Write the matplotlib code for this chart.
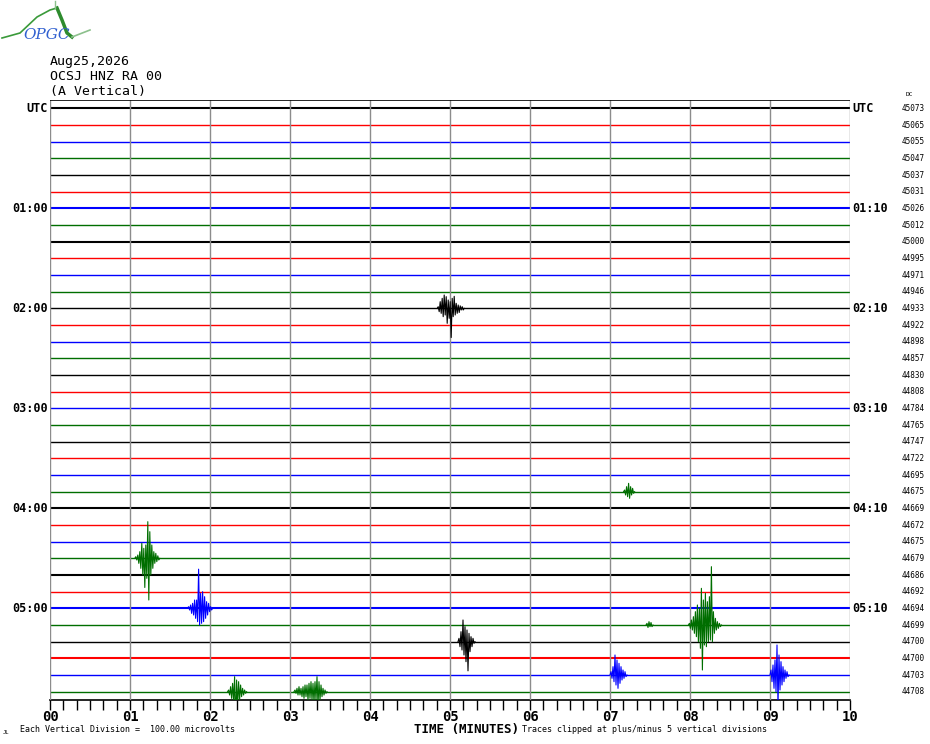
import matplotlib
matplotlib.use("Agg")
import matplotlib.pyplot as plt

# helicorder: 36 lines of 10 minutes, 00:00 -> 05:50 UTC
n_lines = 36
colors = ['black', 'red', 'blue', '#006e00']
left_labels = {0: 'UTC', 6: '01:00', 12: '02:00', 18: '03:00', 24: '04:00', 30: '05:00'}
right_labels = {0: 'UTC', 6: '01:10', 12: '02:10', 18: '03:10', 24: '04:10', 30: '05:10'}
dc_values = [45073, 45065, 45055, 45047, 45037, 45031, 45026, 45012, 45000, 44995,
             44971, 44946, 44933, 44922, 44898, 44857, 44830, 44808, 44784, 44765,
             44747, 44722, 44695, 44675, 44669, 44672, 44675, 44679, 44686, 44692,
             44694, 44699, 44700, 44700, 44703, 44708]
minute_labels = ['00', '01', '02', '03', '04', '05', '06', '07', '08', '09', '10']
thick_lines = [0, 6, 8, 24, 28, 30, 33]

# events: line, start minute, amplitudes in divisions (1 sample ~ 0.0125 min)
events = [
    (12, 4.84, [0.1, -0.2, 0.4, -0.3, 0.6, -0.5, 0.8, -0.4, 0.7, -0.9, 0.5, -0.6, 0.4, -1.75,
                0.6, -0.5, 0.72, -0.4, 0.3, -0.3, 0.2, -0.25, 0.15, -0.1, 0.1, -0.1]),
    (27, 1.06, [0.1, -0.1, 0.2, -0.3, 0.4, -0.6, 0.9, -1.0, 0.6, -1.75, 0.8, -1.2, 2.2, -2.5,
                1.6, -1.0, 0.8, -0.6, 0.4, -0.3, 0.3, -0.2, 0.15, -0.1]),
    (30, 1.72, [0.1, -0.1, 0.2, -0.3, 0.3, -0.4, 0.5, -0.6, 0.5, -0.8, 2.35, -1.0, 0.9, -0.9,
                1.0, -0.8, 0.7, -0.6, 0.4, -0.4, 0.3, -0.2, 0.1, -0.1]),
    (23, 7.17, [0.1, -0.2, 0.3, -0.3, 0.5, -0.4, 0.3, -0.2, 0.2, -0.1]),
    (31, 7.45, [0.1, -0.15, 0.2, -0.1, 0.15, -0.1]),
    (31, 7.98, [0.1, -0.2, 0.3, -0.3, 0.5, -0.5, 0.8, -0.7, 1.2, -1.0, 1.0, -1.4, 2.2, -2.7,
                1.5, -1.2, 1.9, -1.3, 1.4, -1.0, 1.7, -0.9, 3.5, -1.0, 0.8, -0.5, 0.4, -0.3,
                0.2, -0.2, 0.1, -0.1]),
    (32, 5.1, [0.2, -0.3, 0.6, -0.5, 1.3, -0.8, 0.9, -1.2, 0.7, -1.75, 0.5, -0.6, 0.3, -0.3,
               0.2, -0.1]),
    (34, 7.0, [0.2, -0.2, 0.5, -0.4, 1.2, -0.6, 0.9, -0.8, 0.7, -0.5, 0.5, -0.3, 0.3, -0.2,
               0.2, -0.1]),
    (34, 9.0, [0.3, -0.4, 0.6, -0.8, 0.9, -1.0, 1.8, -1.9, 1.2, -0.9, 0.8, -0.6, 0.5, -0.4,
               0.3, -0.2, 0.2, -0.1]),
    (35, 2.22, [0.1, -0.2, 0.3, -0.4, 0.5, -0.6, 0.9, -1.9, 0.7, -0.9, 0.6, -0.5, 0.4, -0.3,
                0.2, -0.2, 0.1, -0.1]),
    (35, 3.05, [0.1, -0.1, 0.2, -0.2, 0.3, -0.2, 0.2, -0.3, 0.3, -0.4, 0.4, -0.3, 0.4, -0.5,
                0.5, -0.4, 0.6, -0.5, 0.5, -0.6, 0.6, -0.5, 0.9, -0.8, 0.6, -0.5, 0.4, -0.3,
                0.2, -0.2, 0.1, -0.1]),
]

logo_curve_x = [2, 20, 37, 50, 57, 62, 67, 72, 90]
logo_curve_y = [38, 33, 17, 10, 8, 20, 33, 37, 30]

mono = 'DejaVu Sans Mono'
W, H = 930, 744
fig = plt.figure(figsize=(W / 100, H / 100), dpi=100)

ax = fig.add_axes([50 / W, 1 - 700 / H, 800 / W, 600 / H])
ax.set_xlim(0, 10)
ax.set_ylim(n_lines - 0.5, -0.5)

for m in range(11):
    ax.axvline(m, color='#8c8c8c', lw=1.0, zorder=3)
ax.axhline(-0.5, color='black', lw=1.2, zorder=3)

for i in range(n_lines):
    lw = 1.5 if i in thick_lines else 1.0
    ax.plot([0, 10], [i, i], color=colors[i % 4], lw=lw, zorder=2, solid_capstyle='butt')

step = 0.0125
for line, start, amps in events:
    xs = [start + k * step for k in range(len(amps) + 2)]
    ys = [line] + [line - a for a in amps] + [line]
    ax.plot(xs, ys, color=colors[line % 4], lw=0.8, zorder=4)

for i, txt in left_labels.items():
    ax.text(-0.03, i, txt, ha='right', va='center', family=mono, weight='bold', fontsize=8.5,
            clip_on=False)
for i, txt in right_labels.items():
    ax.text(10.03, i, txt, ha='left', va='center', family=mono, weight='bold', fontsize=8.5,
            clip_on=False)
for i, v in enumerate(dc_values):
    ax.text(10.64, i, str(v), ha='left', va='center', family=mono, fontsize=5.5, clip_on=False)
ax.text(10.7, -0.85, 'DC', ha='left', va='center', family=mono, fontsize=4.5, clip_on=False)

ax.set_yticks([])
for s in ['left', 'right', 'top']:
    ax.spines[s].set_visible(False)
ax.spines['bottom'].set_linewidth(1.2)
ax.set_xticks([m / 6 for m in range(61)], minor=True)
ax.set_xticks(range(11))
ax.set_xticklabels(minute_labels, family=mono, weight='bold', fontsize=10)
ax.tick_params(axis='x', which='both', direction='out', length=7, width=1, pad=0)

fig.text(50 / W, 1 - 61 / H, 'Aug25,2026', family=mono, fontsize=9.5, va='center')
fig.text(50 / W, 1 - 76 / H, 'OCSJ HNZ RA 00', family=mono, fontsize=9.5, va='center')
fig.text(50 / W, 1 - 92 / H, '(A Vertical)', family=mono, fontsize=9.5, va='center')

fig.text(414 / W, 1 - 730 / H, 'TIME (MINUTES)', family=mono, weight='bold', fontsize=9,
         va='center')
fig.text(20 / W, 1 - 730 / H, 'Each Vertical Division =  100.00 microvolts', family=mono,
         fontsize=6, va='center')
fig.text(522 / W, 1 - 730 / H, 'Traces clipped at plus/minus 5 vertical divisions',
         family=mono, fontsize=6, va='center')
fig.text(3 / W, 1 - 733 / H, 'JL', family=mono, fontsize=4, va='center')

# logo
lax = fig.add_axes([0, 1 - 45 / H, 100 / W, 45 / H])
lax.set_xlim(0, 100)
lax.set_ylim(45, 0)
lax.axis('off')
lax.plot(logo_curve_x[:5], logo_curve_y[:5], color='#3a9a3a', lw=1.2)
lax.plot(logo_curve_x[4:8], logo_curve_y[4:8], color='#2e8b2e', lw=2.5)
lax.plot(logo_curve_x[7:], logo_curve_y[7:], color='#8cc08c', lw=1.2)
lax.plot([55, 55], [1, 8], color='#8cc08c', lw=1)
lax.text(47, 35, 'OPGC', ha='center', va='center', color='#3060d0', style='italic',
         fontsize=11, family='DejaVu Serif')

fig.savefig('out.png', dpi=100)
